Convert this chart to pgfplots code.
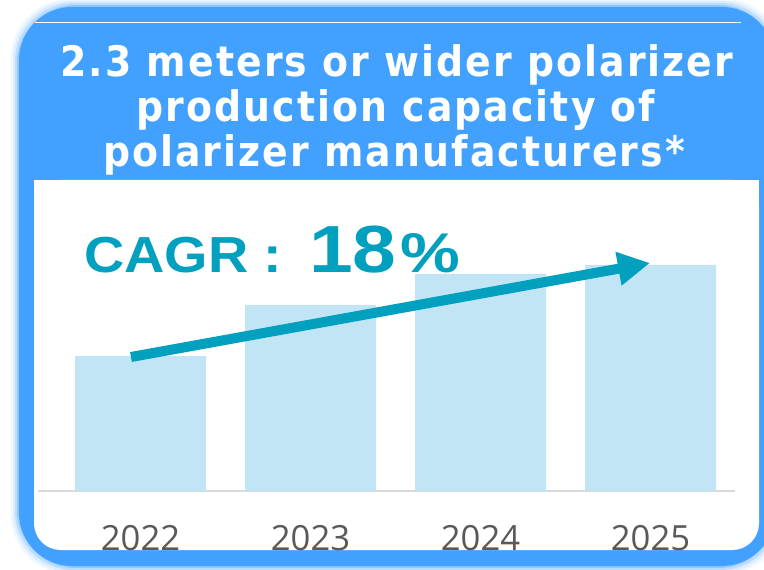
\documentclass[border=0pt]{standalone}
\usepackage{pgfplots}
\pgfplotsset{compat=1.18}
\usepackage{fontspec}
\setmainfont{DejaVu Sans}
\newfontfamily\titlefont{DejaVu Sans Condensed}[LetterSpace=5]
\newfontfamily\tickfont{Open Sans}
\newfontfamily\cagrfont{Liberation Sans}[FakeStretch=1.1]
\newfontfamily\numfont{Liberation Sans}[FakeStretch=1.18]
\newfontfamily\pctfont{Liberation Sans}[FakeStretch=1.2]
\usetikzlibrary{arrows.meta}
\definecolor{hdrblue}{RGB}{66,160,255}
\definecolor{barblue}{RGB}{194,229,245}
\definecolor{teal}{RGB}{0,160,190}
\definecolor{tickgray}{RGB}{89,89,89}
\definecolor{basegray}{RGB}{217,217,217}
\begin{document}
\begin{tikzpicture}
\path[use as bounding box] (0,0) rectangle (573pt,-427.5pt);
\begin{scope}[x=0.75pt,y=-0.75pt]
  % glow
  \foreach \d/\o in {8/0.08,6/0.12,4/0.2,2/0.35}{
    \fill[hdrblue,opacity=\o,rounded corners=44] (19-\d,7-\d) rectangle (775+\d,566+\d);
  }
  \fill[hdrblue,rounded corners=40] (19,7) rectangle (775,566);
  \draw[white,line width=0.75pt] (35,23) -- (741,23);
  \fill[white,rounded corners=20] (34,180) rectangle (759,550);
  \fill[white] (34,180) rectangle (759,230);
  \node[anchor=base,white,font=\titlefont\bfseries\fontsize{31.5}{34}\selectfont] at (397,77) {2.3 meters or wider polarizer};
  \node[anchor=base,white,font=\titlefont\bfseries\fontsize{31.5}{34}\selectfont] at (396,122) {production capacity of};
  \node[anchor=base,white,font=\titlefont\bfseries\fontsize{31.5}{34}\selectfont] at (394,167) {polarizer manufacturers*};
\end{scope}
\begin{axis}[
  at={(28.5pt,-368.25pt)}, anchor=south west,
  scale only axis, width=522.75pt, height=233.25pt,
  xmin=-0.603, xmax=3.497, ymin=0, ymax=311,
  axis x line=bottom, axis y line=none,
  x axis line style={basegray,line width=1pt,-},
  xtick=data, xticklabels={2022,2023,2024,2025},
  xtick style={draw=none},
  xticklabel style={font=\tickfont\fontsize{26}{30}\selectfont, text=tickgray, yshift=-20pt},
  ytick=\empty,
  clip=false,
]
\addplot[ybar, bar width=98.25pt, bar shift=0pt, fill=barblue, draw=none] coordinates {(0,135) (1,186) (2,217) (3,226)};
\addplot[teal, line width=7.5pt, -{Triangle[length=24pt,width=24pt]}] coordinates {(-0.056,134) (2.997,228)};
\end{axis}
\begin{scope}[x=0.75pt,y=-0.75pt]
  \node[anchor=base west,inner sep=0pt,text=teal,font=\bfseries] at (84,273) {\cagrfont\fontsize{38}{40}\selectfont CAGR :\hspace{20pt}\numfont\fontsize{50}{50}\selectfont 18\hspace{3pt}\pctfont\fontsize{42}{40}\selectfont\%};
\end{scope}
\end{tikzpicture}
\end{document}
